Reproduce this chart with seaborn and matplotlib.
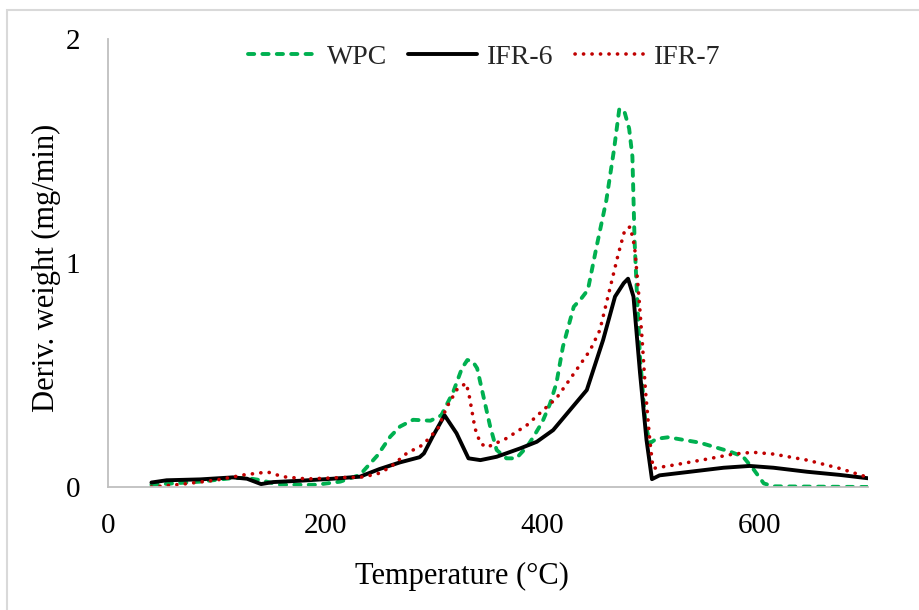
import matplotlib
matplotlib.use("Agg")
import matplotlib.pyplot as plt
import seaborn as sns
from matplotlib.patches import Rectangle

# ---- data ----
wpc_t = [40, 85, 115, 128, 140, 158, 192, 214, 232, 248, 260, 269, 281, 297, 307, 318, 326, 331,
         336, 340, 346, 352, 358, 367, 376, 386, 392, 400, 407, 413, 419, 429, 436, 442, 450, 459,
         466, 471, 476, 480, 483, 485, 487, 490, 495, 499, 505, 516, 545, 573, 585, 595, 604, 613, 700]
wpc_v = [0.01, 0.024, 0.04, 0.04, 0.031, 0.01, 0.01, 0.024, 0.054, 0.14, 0.225, 0.27, 0.30, 0.296,
         0.32, 0.425, 0.53, 0.567, 0.56, 0.53, 0.40, 0.27, 0.165, 0.128, 0.128, 0.18, 0.225, 0.29,
         0.37, 0.463, 0.626, 0.805, 0.842, 0.88, 1.073, 1.28, 1.504, 1.69, 1.67, 1.60, 1.475, 1.10,
         0.88, 0.58, 0.284, 0.195, 0.215, 0.222, 0.198, 0.158, 0.135, 0.076, 0.016, 0.003, 0.0]

ifr6_t = [40, 54, 85, 115, 128, 141, 152, 177, 207, 232, 250, 269, 287, 291, 299, 310, 321, 332, 343,
          358, 380, 395, 410, 441, 456, 467, 475, 479, 484, 490, 496, 501, 508, 536, 567, 591, 613,
          644, 674, 700]
ifr6_v = [0.02, 0.03, 0.034, 0.043, 0.037, 0.013, 0.022, 0.028, 0.037, 0.046, 0.08, 0.11, 0.133, 0.15,
          0.225, 0.32, 0.24, 0.128, 0.12, 0.135, 0.173, 0.202, 0.254, 0.433, 0.656, 0.85, 0.91, 0.93,
          0.85, 0.51, 0.21, 0.035, 0.052, 0.068, 0.086, 0.094, 0.086, 0.068, 0.054, 0.039]

ifr7_t = [40, 69, 100, 125, 147, 161, 183, 220, 232, 248, 260, 275, 290, 304, 312, 322, 330, 333, 338,
          343, 349, 367, 386, 401, 413, 425, 444, 453, 462, 470, 476, 481, 485, 488.5, 492, 495, 499,
          502, 521, 551, 576, 594, 613, 644, 674, 700]
ifr7_v = [0.0, 0.013, 0.031, 0.054, 0.067, 0.046, 0.036, 0.043, 0.043, 0.058, 0.088, 0.15, 0.188,
          0.262, 0.356, 0.44, 0.463, 0.40, 0.262, 0.195, 0.177, 0.217, 0.277, 0.344, 0.396, 0.478,
          0.61, 0.70, 0.88, 1.04, 1.147, 1.162, 1.073, 0.88, 0.656, 0.433, 0.21, 0.083, 0.098, 0.124,
          0.147, 0.155, 0.147, 0.12, 0.083, 0.043]

series_names = ["WPC", "IFR-6", "IFR-7"]
x_ticks = [0, 200, 400, 600]
y_ticks = [0, 1, 2]

# ---- style ----
sns.set_theme(style="white")
plt.rcParams['font.family'] = ['Liberation Serif', 'DejaVu Serif']

fig = plt.figure(figsize=(9.19, 6.10), dpi=100)
ax_l, ax_r, ax_b, ax_t = 108, 868, 487, 39
ax = fig.add_axes([ax_l/919, 1 - ax_b/610, (ax_r-ax_l)/919, (ax_b-ax_t)/610])

sns.lineplot(x=wpc_t, y=wpc_v, ax=ax, color="#00B050", lw=2.8, label=series_names[0])
l_wpc = ax.lines[-1]
l_wpc.set_dashes((1.6, 2.1))
l_wpc.set_dash_capstyle("round")

sns.lineplot(x=ifr6_t, y=ifr6_v, ax=ax, color="black", lw=2.8, label=series_names[1])
l6 = ax.lines[-1]
l6.set_solid_joinstyle("round")

sns.lineplot(x=ifr7_t, y=ifr7_v, ax=ax, color="#C00000", lw=2.6, label=series_names[2])
l7 = ax.lines[-1]
l7.set_dashes((0.05, 2.3))
l7.set_dash_capstyle("round")

ax.set_xlim(0, 700)
ax.set_ylim(0, 2)
ax.set_xticks(x_ticks)
ax.set_yticks(y_ticks)
ax.tick_params(axis='both', length=0, labelsize=21, colors='black')
ax.tick_params(axis='x', pad=19)
ax.tick_params(axis='y', pad=20)
for s in ["top", "right"]:
    ax.spines[s].set_visible(False)
for s in ["left", "bottom"]:
    ax.spines[s].set_color("#BFBFBF")
    ax.spines[s].set_linewidth(1.3)
ax.grid(False)

ax.set_xlabel("Temperature (°C)", fontsize=22, color='black', va='center')
ax.xaxis.set_label_coords((462 - ax_l)/(ax_r - ax_l), (ax_b - 576)/(ax_b - ax_t))
ax.set_ylabel("Deriv. weight (mg/min)", fontsize=22, color='black', va='center')
ax.yaxis.set_label_coords((46 - ax_l)/(ax_r - ax_l), (ax_b - 268)/(ax_b - ax_t))

leg = ax.legend(handles=[l_wpc, l6, l7], labels=series_names, loc="center",
                bbox_to_anchor=(484/919, 1 - 57/610), bbox_transform=fig.transFigure,
                ncol=3, frameon=False, fontsize=20, handlelength=2.5, handletextpad=0.35,
                columnspacing=0.75)

fig.patches.append(Rectangle((7/919, -0.05), 1.0, (610-10)/610 + 0.05, transform=fig.transFigure,
                             fill=False, edgecolor="#D9D9D9", linewidth=1.5))

fig.savefig("out.png", dpi=100, facecolor="white")
